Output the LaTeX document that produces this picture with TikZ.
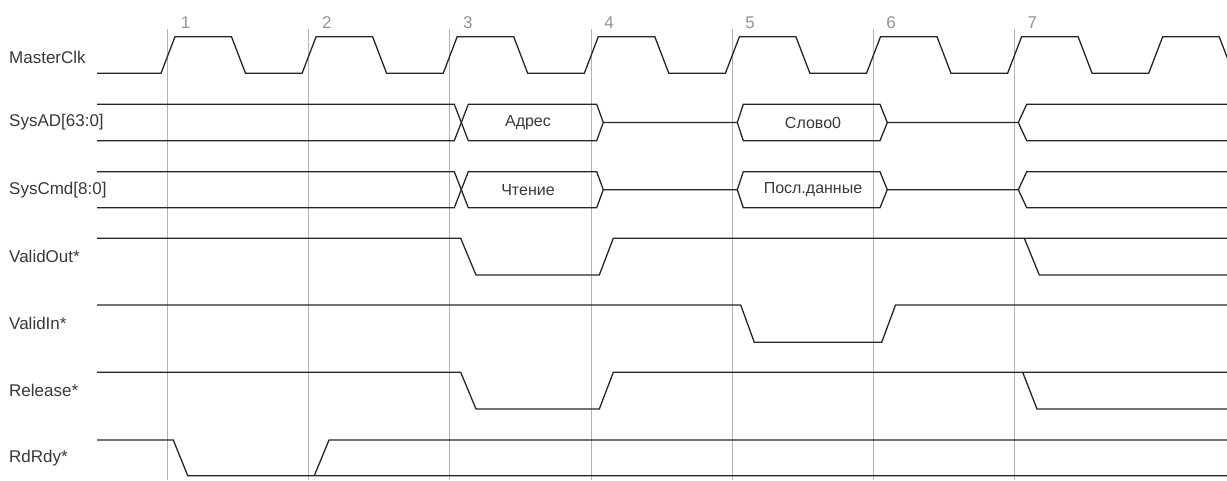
\documentclass[tikz,border=0pt]{standalone}
\usepackage{fontspec}
\setmainfont{Liberation Sans}
\begin{document}
\begin{tikzpicture}[x=1pt,y=-1pt,
  sig/.style={line width=1.3pt,draw=black!85,line join=miter},
  gridln/.style={line width=0.9pt,draw=black!30},
  num/.style={text=black!42,font=\fontsize{17}{19}\selectfont,inner sep=0pt},
  lbl/.style={anchor=west,text=black!78,font=\fontsize{17}{19}\selectfont,inner sep=0pt},
  val/.style={text=black!78,font=\fontsize{16}{18}\selectfont,inner sep=0pt}]
\useasboundingbox (0,0) rectangle (1227,480);
\clip (0,0) rectangle (1227,480);
% grid lines and cycle numbers
\foreach \k in {1,...,7} {
  \draw[gridln] ({167.7+141.1*(\k-1)},29.3) -- ({167.7+141.1*(\k-1)},480);
  \node[num] (n\k) at ({185.7+141.1*(\k-1)},22.3) {\k};
}
% signal labels
\node[lbl] (lclk) at (9,57) {MasterClk};
\node[lbl] (lad) at (9,122.5) {SysAD[63:0]};
\node[lbl] (lcmd) at (9,189.7) {SysCmd[8:0]};
\node[lbl] (lvo) at (9,256.7) {ValidOut*};
\node[lbl] (lvi) at (9,323.7) {ValidIn*};
\node[lbl] (lrel) at (9,390.7) {Release*};
\node[lbl] (lrdy) at (9,457.8) {RdRdy*};
% MasterClk
\draw[sig] (97,73.3) foreach \k in {0,...,7} {
  -- ({161+141.1*\k},73.3) -- ({175+141.1*\k},36.7)
  -- ({231.5+141.1*\k},36.7) -- ({245.5+141.1*\k},73.3) };
% SysAD[63:0]
\draw[sig] (97,104.3) -- (454.3,104.3) -- (468.3,140.7) -- (596.7,140.7) -- (603.3,122.5)
  -- (737.3,122.5) -- (743.3,140.7) -- (880,140.7) -- (887.3,122.5)
  -- (1018.3,122.5) -- (1026.7,140.7) -- (1227,140.7);
\draw[sig] (97,140.7) -- (454.3,140.7) -- (468.3,104.3) -- (596.7,104.3) -- (603.3,122.5);
\draw[sig] (737.3,122.5) -- (743.3,104.3) -- (880,104.3) -- (887.3,122.5);
\draw[sig] (1018.3,122.5) -- (1026.7,104.3) -- (1227,104.3);
\node[val] (vad) at (528,122.5) {Адрес};
\node[val] (vw0) at (813,122.5) {Слово0};
% SysCmd[8:0]
\draw[sig] (97,171.7) -- (454.3,171.7) -- (468.3,207.7) -- (596.7,207.7) -- (603.3,189.7)
  -- (737.3,189.7) -- (743.3,207.7) -- (880,207.7) -- (887.3,189.7)
  -- (1018.3,189.7) -- (1026.7,207.7) -- (1227,207.7);
\draw[sig] (97,207.7) -- (454.3,207.7) -- (468.3,171.7) -- (596.7,171.7) -- (603.3,189.7);
\draw[sig] (737.3,189.7) -- (743.3,171.7) -- (880,171.7) -- (887.3,189.7);
\draw[sig] (1018.3,189.7) -- (1026.7,171.7) -- (1227,171.7);
\node[val] (vrd) at (528,189.7) {Чтение};
\node[val] (vld) at (813,189.7) {Посл.данные};
% ValidOut*
\draw[sig] (97,238.3) -- (460.7,238.3) -- (476,275) -- (599.3,275) -- (613.3,238.3) -- (1227,238.3);
\draw[sig] (1024.3,238.3) -- (1039.3,275) -- (1227,275);
% ValidIn*
\draw[sig] (97,305) -- (740.7,305) -- (754.3,342.3) -- (881.7,342.3) -- (895.5,305) -- (1227,305);
% Release*
\draw[sig] (97,372.3) -- (460.7,372.3) -- (476,409) -- (599.3,409) -- (613.3,372.3) -- (1227,372.3);
\draw[sig] (1022.7,372.3) -- (1037,409) -- (1227,409);
% RdRdy*
\draw[sig] (97,440) -- (173.3,440) -- (187.7,475.7) -- (1227,475.7);
\draw[sig] (314.3,475.7) -- (329,440) -- (1227,440);
\end{tikzpicture}
\end{document}
